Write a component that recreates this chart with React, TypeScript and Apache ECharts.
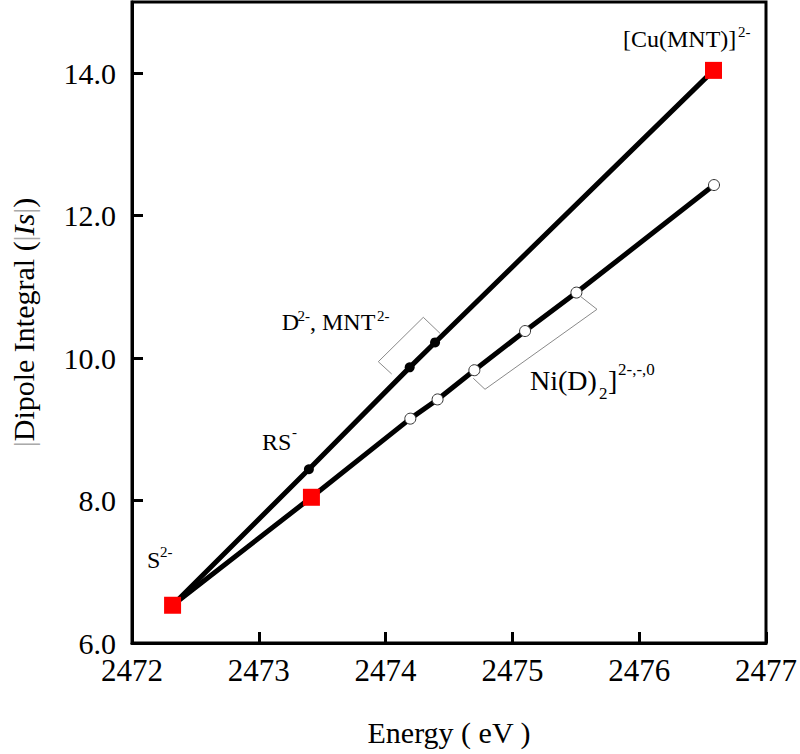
import React, { useEffect, useRef } from "react";
import * as echarts from "echarts";

// Upper curve: S2-, RS-, D2-, MNT2-, [Cu(MNT)]2-
const energyUpper = [2472.32, 2473.395, 2474.19, 2474.39, 2476.586];
const integralUpper = [6.53, 8.44, 9.87, 10.22, 14.04];
// Lower curve: S2-, square, Ni(D)2 series
const energyLower = [2472.32, 2473.415, 2474.195, 2474.41, 2474.7, 2475.1, 2475.505, 2476.59];
const integralLower = [6.53, 8.046, 9.15, 9.42, 9.83, 10.38, 10.92, 12.43];

// Marker groups
const squareEnergy = [2472.32, 2473.415, 2476.586];
const squareIntegral = [6.53, 8.046, 14.04];
const filledEnergy = [2473.395, 2474.19, 2474.39];
const filledIntegral = [8.44, 9.87, 10.22];
const openEnergy = [2474.195, 2474.41, 2474.7, 2475.1, 2475.505, 2476.59];
const openIntegral = [9.15, 9.42, 9.83, 10.38, 10.92, 12.43];

// Axes
const xMin = 2472;
const xMax = 2477;
const xInterval = 1;
const yMin = 6;
const yMax = 15;
const yInterval = 2;

const FONT = "'Liberation Serif', 'Times New Roman', serif";

const pairs = (xs: number[], ys: number[]) => xs.map((x, i) => [x, ys[i]]);

function txt(x: number, baseline: number, text: string, size: number, extra: any = {}) {
  return {
    type: "text",
    z: 100,
    style: {
      x,
      y: baseline - 0.34 * size,
      text,
      font: `${size}px ${FONT}`,
      fill: "#000",
      textAlign: "left",
      textVerticalAlign: "middle",
      ...extra,
    },
  };
}

export default function App() {
  const ref = useRef<HTMLDivElement>(null);
  useEffect(() => {
    if (!ref.current) return;
    const chart = echarts.init(ref.current, undefined, { renderer: "svg" });
    const grayLine = { stroke: "#8a8a8a", lineWidth: 1, fill: null };
    chart.setOption({
      animation: false,
      backgroundColor: "#fff",
      textStyle: { fontFamily: FONT },
      grid: {
        left: 128,
        right: 32,
        top: 2,
        bottom: 111,
        show: true,
        borderColor: "#000",
        borderWidth: 3,
        backgroundColor: "transparent",
      },
      xAxis: {
        type: "value",
        min: xMin,
        max: xMax,
        interval: xInterval,
        name: "Energy ( eV )",
        nameLocation: "middle",
        nameGap: 74,
        nameTextStyle: { fontSize: 30, color: "#000", fontFamily: FONT },
        axisLine: { show: true, onZero: false, lineStyle: { color: "#000", width: 3 } },
        axisTick: { show: true, inside: true, length: 11, lineStyle: { color: "#000", width: 3 } },
        axisLabel: { fontSize: 31, color: "#000", margin: 12, fontFamily: FONT, formatter: (v: number) => String(v) },
        splitLine: { show: false },
      },
      yAxis: {
        type: "value",
        min: yMin,
        max: yMax,
        interval: yInterval,
        name: "{bar||}Dipole Integral ({bar||}{it|Is}{bar||})",
        nameLocation: "middle",
        nameRotate: 90,
        nameGap: 94,
        nameTextStyle: {
          fontSize: 30,
          color: "#000",
          fontFamily: FONT,
          rich: {
            bar: { fontSize: 30, color: "#aaa", fontFamily: FONT },
            it: { fontSize: 30, color: "#000", fontStyle: "italic", fontFamily: FONT },
          },
        },
        axisLine: { show: true, onZero: false, lineStyle: { color: "#000", width: 3 } },
        axisTick: { show: true, inside: true, length: 11, lineStyle: { color: "#000", width: 3 } },
        axisLabel: {
          fontSize: 30,
          color: "#000",
          margin: 16,
          fontFamily: FONT,
          showMaxLabel: false,
          formatter: (v: number) => v.toFixed(1),
        },
        splitLine: { show: false },
      },
      series: [
        {
          type: "line",
          data: pairs(energyUpper, integralUpper),
          showSymbol: false,
          symbol: "none",
          lineStyle: { color: "#000", width: 5 },
          z: 2,
        },
        {
          type: "line",
          data: pairs(energyLower, integralLower),
          showSymbol: false,
          symbol: "none",
          lineStyle: { color: "#000", width: 5 },
          z: 2,
        },
        {
          type: "scatter",
          data: pairs(filledEnergy, filledIntegral),
          symbol: "circle",
          symbolSize: 10,
          itemStyle: { color: "#000", opacity: 1 },
          emphasis: { disabled: true },
          z: 5,
        },
        {
          type: "scatter",
          data: pairs(openEnergy, openIntegral),
          symbol: "circle",
          symbolSize: 11,
          itemStyle: { color: "#fff", borderColor: "#333", borderWidth: 1, opacity: 1 },
          emphasis: { disabled: true },
          z: 5,
        },
        {
          type: "scatter",
          data: pairs(squareEnergy, squareIntegral),
          symbol: "rect",
          symbolSize: 17,
          itemStyle: { color: "#ff0000", opacity: 1 },
          emphasis: { disabled: true },
          z: 6,
        },
      ],
      graphic: [
        // [Cu(MNT)]2-
        txt(623, 46.7, "[Cu(MNT)]", 24),
        txt(738, 36.7, "2-", 15),
        // S2-
        txt(147, 568, "S", 24),
        txt(160, 557, "2-", 15),
        // RS-
        txt(262, 450, "RS", 24),
        txt(292, 437, "-", 15),
        // D2-, MNT2-
        txt(281.7, 330, "D", 24),
        txt(297.5, 320.7, "2-", 15),
        txt(310, 330, ", MNT", 24),
        txt(377, 320.7, "2-", 15),
        // Ni(D)2]2-,-,0
        txt(530, 390, "Ni(D)", 28),
        txt(599, 399, "2", 17),
        txt(608, 390, "]", 28),
        txt(618, 375, "2-,-,0", 17),
        // brackets
        {
          type: "polyline",
          z: 90,
          shape: { points: [[391.7, 374], [378.3, 361.7], [423.3, 317.3], [440, 333.3]] },
          style: grayLine,
        },
        {
          type: "polyline",
          z: 90,
          shape: { points: [[580, 296], [597, 309.3], [485, 389.3], [473.3, 378.3]] },
          style: grayLine,
        },
      ],
    });
    return () => chart.dispose();
  }, []);
  return (
    <div
      ref={ref}
      style={{ position: "absolute", left: 0, top: 0, width: 800, height: 754, background: "#fff" }}
    />
  );
}
